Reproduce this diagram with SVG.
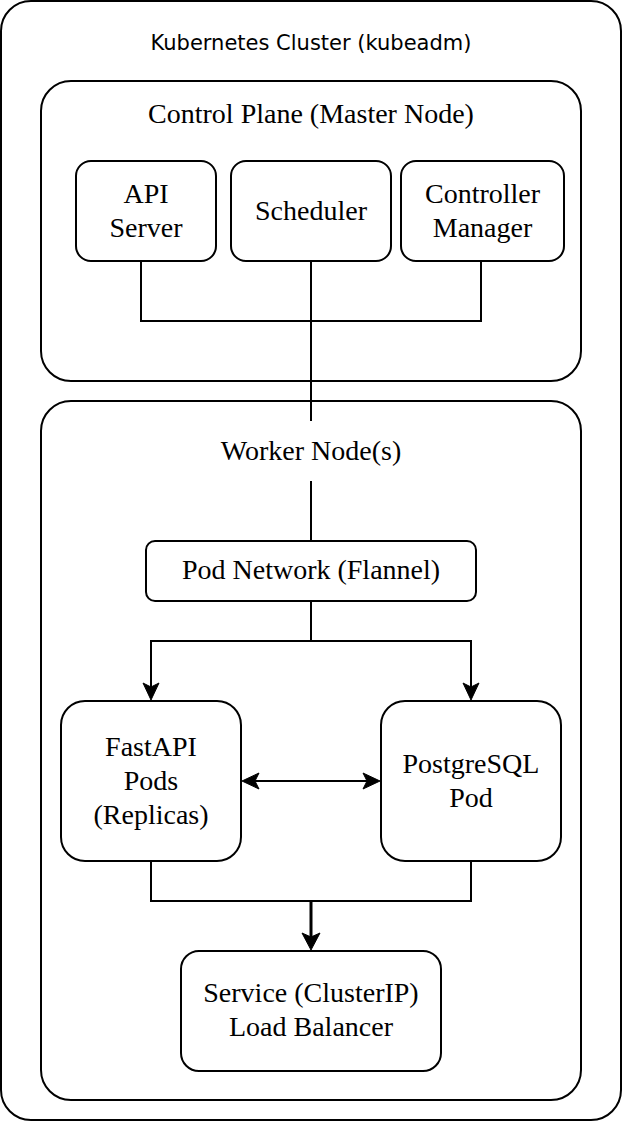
<svg xmlns="http://www.w3.org/2000/svg" width="624" height="1122" viewBox="0 0 624 1122">
  <style>
    .box { fill: #ffffff; stroke: #000000; stroke-width: 2; }
    .cont { fill: none; stroke: #000000; stroke-width: 2; }
    .lbl { font-family: "Liberation Serif", "Times New Roman", serif; font-size: 28px; fill: #000000; text-anchor: middle; }
    .title { font-family: "DejaVu Sans", "Liberation Sans", sans-serif; font-size: 21px; fill: #000000; text-anchor: middle; }
    .edge { fill: none; stroke: #000000; stroke-width: 2; }
    .edge-thick { fill: none; stroke: #000000; stroke-width: 3; }
  </style>
  <defs>
    <marker id="arrow" markerUnits="userSpaceOnUse" viewBox="-2 -10 22 20" markerWidth="22" markerHeight="20" refX="4" refY="0" orient="auto-start-reverse">
      <path d="M0,-8 L17,0 L0,8 L4,0 Z" fill="#000000" stroke="#000000" stroke-width="1" stroke-linejoin="miter"/>
    </marker>
    <marker id="arrowBig" markerUnits="userSpaceOnUse" viewBox="-2 -11 22 22" markerWidth="22" markerHeight="22" refX="4" refY="0" orient="auto">
      <path d="M0,-9 L17,0 L0,9 L4,0 Z" fill="#000000" stroke="#000000" stroke-width="1"/>
    </marker>
  </defs>

  <rect x="0" y="0" width="624" height="1122" fill="#ffffff"/>

  <g id="cluster">
    <rect class="cont" x="1" y="1" width="620" height="1119" rx="30" ry="30"/>
    <text class="title" x="311" y="50">Kubernetes Cluster (kubeadm)</text>
  </g>

  <g id="control-plane">
    <rect class="cont" x="41" y="81" width="540" height="300" rx="30" ry="30"/>
    <text class="lbl" x="311" y="123">Control Plane (Master Node)</text>
  </g>

  <g id="worker-nodes">
    <rect class="cont" x="41" y="401" width="540" height="699" rx="30" ry="30"/>
    <text class="lbl" x="311" y="460">Worker Node(s)</text>
  </g>

  <g id="connectors">
    <path class="edge" d="M141,261 V321 H481 V261"/>
    <path class="edge" d="M311,261 V421 M311,481 V541"/>
    <path class="edge" d="M311,601 V641 H151 V687" marker-end="url(#arrow)"/>
    <path class="edge" d="M311,641 H471 V687" marker-end="url(#arrow)"/>
    <path class="edge" d="M255,781 H367" marker-start="url(#arrow)" marker-end="url(#arrow)"/>
    <path class="edge" d="M151,861 V901 H471 V861"/>
    <path class="edge-thick" d="M311,901 V937" marker-end="url(#arrowBig)"/>
  </g>

  <g id="api-server">
    <rect class="box" x="76" y="161" width="140" height="100" rx="15" ry="15"/>
    <text class="lbl" x="146" y="203">API</text>
    <text class="lbl" x="146" y="237">Server</text>
  </g>

  <g id="scheduler">
    <rect class="box" x="231" y="161" width="160" height="100" rx="15" ry="15"/>
    <text class="lbl" x="311" y="220">Scheduler</text>
  </g>

  <g id="controller-manager">
    <rect class="box" x="401" y="161" width="163" height="100" rx="15" ry="15"/>
    <text class="lbl" x="482.5" y="203">Controller</text>
    <text class="lbl" x="482.5" y="237">Manager</text>
  </g>

  <g id="pod-network">
    <rect class="box" x="146" y="541" width="330" height="60" rx="9" ry="9"/>
    <text class="lbl" x="311" y="579">Pod Network (Flannel)</text>
  </g>

  <g id="fastapi-pods">
    <rect class="box" x="61" y="701" width="180" height="160" rx="24" ry="24"/>
    <text class="lbl" x="151" y="756">FastAPI</text>
    <text class="lbl" x="151" y="790">Pods</text>
    <text class="lbl" x="151" y="824">(Replicas)</text>
  </g>

  <g id="postgresql-pod">
    <rect class="box" x="381" y="701" width="180" height="160" rx="24" ry="24"/>
    <text class="lbl" x="471" y="773">PostgreSQL</text>
    <text class="lbl" x="471" y="807">Pod</text>
  </g>

  <g id="service">
    <rect class="box" x="181" y="951" width="260" height="120" rx="18" ry="18"/>
    <text class="lbl" x="311" y="1002">Service (ClusterIP)</text>
    <text class="lbl" x="311" y="1036">Load Balancer</text>
  </g>
</svg>
